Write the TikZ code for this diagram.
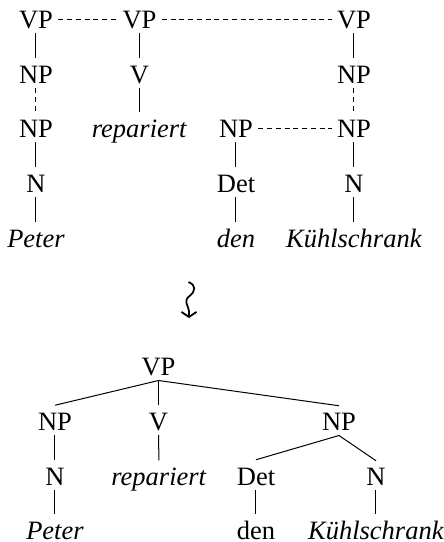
\documentclass[tikz,border=0pt]{standalone}
\usepackage{fontspec}
\IfFontExistsTF{LiberationSerif-Regular.ttf}
  {\setmainfont{LiberationSerif}[Extension=.ttf,UprightFont=*-Regular,ItalicFont=*-Italic,BoldFont=*-Bold,BoldItalicFont=*-BoldItalic]}
  {\setmainfont{Liberation Serif}}
\usetikzlibrary{arrows.meta}
\begin{document}
\begin{tikzpicture}[x=0.4pt,y=-0.4pt,
  lbl/.style={inner sep=0pt, anchor=base, text height=6.9pt, text depth=0pt, font=\fontsize{10.6}{12}\selectfont},
  tline/.style={line width=0.4pt, shorten <=1.8pt, shorten >=2.8pt},
  dline/.style={tline, dash pattern=on 2pt off 1.5pt},
  hdash/.style={line width=0.4pt, dash pattern=on 2pt off 1.5pt, shorten <=2pt, shorten >=2pt},
  bline/.style={line width=0.4pt}]
\useasboundingbox (0,0) rectangle (444,542);
% top trees
\node[lbl] (a1) at (36,28) {VP};
\node[lbl] (b1) at (139.5,28) {VP};
\node[lbl] (d1) at (354,28) {VP};
\node[lbl] (a2) at (36,83) {NP};
\node[lbl] (b2) at (139.5,83) {V};
\node[lbl] (d2) at (354,83) {NP};
\node[lbl] (a3) at (36,137) {NP};
\node[lbl] (b3) at (139.5,137) {\textit{repariert}};
\node[lbl] (c3) at (236,137) {NP};
\node[lbl] (d3) at (354,137) {NP};
\node[lbl] (a4) at (36,192) {N};
\node[lbl] (c4) at (236,192) {Det};
\node[lbl] (d4) at (354,192) {N};
\node[lbl] (a5) at (36,247) {\textit{Peter}};
\node[lbl] (c5) at (236,247) {\textit{den}};
\node[lbl] (d5) at (354,247) {\textit{Kühlschrank}};
\draw[tline] (a1.south) -- (a2.north);
\draw[dline] (a2.south) -- (a3.north);
\draw[tline] (a3.south) -- (a4.north);
\draw[tline] (a4.south) -- (a5.north);
\draw[tline] (b1.south) -- (b2.north);
\draw[tline] (b2.south) -- (b3.north);
\draw[tline] (c3.south) -- (c4.north);
\draw[tline] (c4.south) -- (c5.north);
\draw[tline] (d1.south) -- (d2.north);
\draw[dline] (d2.south) -- (d3.north);
\draw[tline] (d3.south) -- (d4.north);
\draw[tline] (d4.south) -- (d5.north);
\draw[hdash] (a1.east) -- (b1.west);
\draw[hdash] (b1.east) -- (d1.west);
\draw[hdash] (c3.east) -- (d3.west);
% squiggly arrow
\draw[line width=0.7pt, -{Straight Barb[length=2pt,width=6pt]}]
  (188.5,282) .. controls (196,285) and (196,291) .. (189.5,296)
  .. controls (183,301) and (188.5,306) .. (189,311) -- (189,318);
% bottom tree
\node[lbl] (B1) at (158.5,375) {VP};
\node[lbl] (A2) at (55,430) {NP};
\node[lbl] (B2) at (158.5,430) {V};
\node[lbl] (D2) at (339,430) {NP};
\node[lbl] (A3) at (55,485) {N};
\node[lbl] (B3) at (159,485) {\textit{repariert}};
\node[lbl] (C3) at (256,485) {Det};
\node[lbl] (E3) at (376,485) {N};
\node[lbl] (A4) at (55,539) {\textit{Peter}};
\node[lbl] (C4) at (256,539) {den};
\node[lbl] (E4) at (376,539) {\textit{Kühlschrank}};
\coordinate (B1b) at ([yshift=-2pt]B1.south);
\coordinate (D2b) at ([yshift=-2pt]D2.south);
\draw[bline] (B1b) -- ([yshift=2.8pt]A2.north);
\draw[bline] (B1b) -- ([yshift=2.8pt]B2.north);
\draw[bline] (B1b) -- ([yshift=2.6pt]D2.north);
\draw[bline] (D2b) -- ([yshift=3pt]C3.north);
\draw[bline] (D2b) -- ([yshift=2.6pt]E3.north);
\draw[tline] (A2.south) -- (A3.north);
\draw[tline] (A3.south) -- (A4.north);
\draw[tline] (B2.south) -- (B3.north);
\draw[tline] (C3.south) -- (C4.north);
\draw[tline] (E3.south) -- (E4.north);
\end{tikzpicture}
\end{document}
